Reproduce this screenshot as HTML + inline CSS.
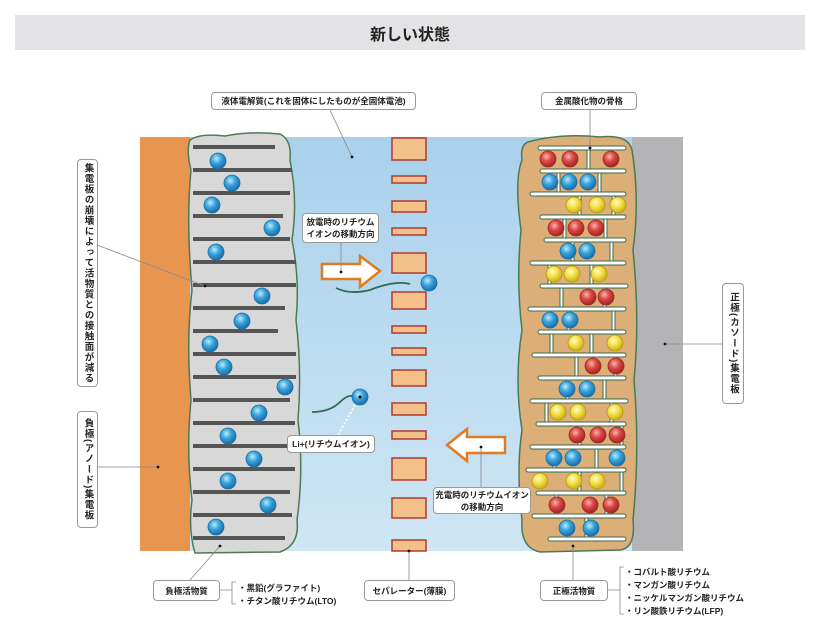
<!DOCTYPE html>
<html><head><meta charset="utf-8"><style>
body{margin:0;width:820px;height:636px;background:#fff;overflow:hidden;position:relative;font-family:"Liberation Sans","Noto Sans CJK JP",sans-serif}
.t{position:absolute;font-size:8.5px;font-weight:bold;color:#222;white-space:nowrap}
.b{position:absolute;background:#fff;border:1px solid #999;border-radius:4px;box-sizing:border-box;display:flex;align-items:center;justify-content:center;text-align:center;font-size:8.5px;font-weight:bold;color:#222;line-height:12px}
.v{writing-mode:vertical-rl;font-size:9.5px;letter-spacing:1px}
</style></head><body>
<div style="position:absolute;left:15px;top:15px;width:790px;height:35px;background:#e3e3e5;display:flex;align-items:center;justify-content:center;font-size:16px;font-weight:bold;color:#222">新しい状態</div>
<svg width="820" height="636" style="position:absolute;left:0;top:0">
<defs>
<linearGradient id="bg" x1="0" y1="0" x2="0" y2="1"><stop offset="0" stop-color="#a9d1ec"/><stop offset="1" stop-color="#cfe6f4"/></linearGradient>
<radialGradient id="bl" cx=".4" cy=".35" r=".6"><stop offset="0" stop-color="#bfeaff"/><stop offset=".5" stop-color="#3aa6dc"/><stop offset="1" stop-color="#1f74b0"/></radialGradient>
<radialGradient id="rd" cx=".4" cy=".35" r=".6"><stop offset="0" stop-color="#f9b5b0"/><stop offset=".5" stop-color="#dc4a45"/><stop offset="1" stop-color="#a82a28"/></radialGradient>
<radialGradient id="yl" cx=".4" cy=".35" r=".6"><stop offset="0" stop-color="#fffbd0"/><stop offset=".5" stop-color="#f6e24a"/><stop offset="1" stop-color="#d2b61e"/></radialGradient>
</defs>
<rect x="140" y="137" width="543" height="414" fill="url(#bg)"/>
<rect x="140" y="137" width="50" height="414" fill="#e8964f"/>
<rect x="632" y="137" width="51" height="414" fill="#b4b4b7"/>
<path d="M190 140 Q200 133 225 136 Q250 131 280 134 Q292 140 290 160 Q298 200 292 240 Q300 280 296 320 Q302 370 298 420 Q304 470 297 520 Q300 545 280 552 L195 553 Q188 530 192 500 Q186 450 191 400 Q186 340 192 290 Q186 220 191 170 Q186 150 190 140Z" fill="#d8d8d8" stroke="#4b7a57" stroke-width="1.5"/>
<g stroke="#555" stroke-width="4">
<line x1="193" y1="147" x2="275" y2="147"/><line x1="193" y1="170" x2="292" y2="170"/><line x1="193" y1="193" x2="290" y2="193"/><line x1="193" y1="216" x2="283" y2="216"/><line x1="193" y1="239" x2="290" y2="239"/><line x1="193" y1="262" x2="296" y2="262"/><line x1="193" y1="285" x2="296" y2="285"/><line x1="193" y1="308" x2="285" y2="308"/><line x1="193" y1="331" x2="278" y2="331"/><line x1="193" y1="354" x2="296" y2="354"/><line x1="193" y1="377" x2="296" y2="377"/><line x1="193" y1="400" x2="290" y2="400"/><line x1="193" y1="423" x2="295" y2="423"/><line x1="193" y1="446" x2="290" y2="446"/><line x1="193" y1="469" x2="295" y2="469"/><line x1="193" y1="492" x2="290" y2="492"/><line x1="193" y1="515" x2="292" y2="515"/><line x1="193" y1="538" x2="285" y2="538"/>
</g>
<g fill="url(#bl)" stroke="#1c6fa8" stroke-width=".8">
<circle cx="218" cy="161" r="8"/><circle cx="232" cy="183" r="8"/><circle cx="212" cy="205" r="8"/><circle cx="272" cy="228" r="8"/><circle cx="216" cy="252" r="8"/><circle cx="262" cy="296" r="8"/><circle cx="242" cy="321" r="8"/><circle cx="210" cy="344" r="8"/><circle cx="224" cy="367" r="8"/><circle cx="285" cy="387" r="8"/><circle cx="259" cy="413" r="8"/><circle cx="228" cy="436" r="8"/><circle cx="254" cy="459" r="8"/><circle cx="228" cy="481" r="8"/><circle cx="268" cy="505" r="8"/><circle cx="216" cy="527" r="8"/>
<circle cx="429" cy="283" r="8"/><circle cx="360" cy="397" r="8"/>
</g>
<circle cx="360" cy="397" r="1.5" fill="#000"/>
<path d="M336 288 Q350 295 370 290 Q395 280 410 284" fill="none" stroke="#2e6b55" stroke-width="1.8"/>
<path d="M312 412 Q330 412 340 402 Q347 395 352 396" fill="none" stroke="#2e6b55" stroke-width="1.8"/>
<line x1="355" y1="405" x2="338" y2="435" stroke="#fff" stroke-width="2" stroke-dasharray="2 2"/>
<g fill="#f3c08a" stroke="#b03a2e" stroke-width="1.5">
<rect x="392" y="138" width="34" height="22"/><rect x="392" y="176" width="34" height="7"/><rect x="392" y="201" width="34" height="11"/><rect x="392" y="228" width="34" height="7"/><rect x="392" y="253" width="34" height="20"/><rect x="392" y="292" width="34" height="17"/><rect x="392" y="326" width="34" height="7"/><rect x="392" y="348" width="34" height="7"/><rect x="392" y="370" width="34" height="16"/><rect x="392" y="403" width="34" height="12"/><rect x="392" y="431" width="34" height="8"/><rect x="392" y="458" width="34" height="22"/><rect x="392" y="498" width="34" height="20"/><rect x="392" y="540" width="34" height="11"/>
</g>
<path d="M322 264 H360 V256 L380 271 L360 287 V279 H322Z" fill="#fff" stroke="#e27a22" stroke-width="2.5"/>
<path d="M505 437 H467 V429 L447 445 L467 461 V453 H505Z" fill="#fff" stroke="#e27a22" stroke-width="2.5"/>
<path d="M528 142 Q560 133 600 137 Q628 134 632 150 Q640 200 633 250 Q640 320 634 380 Q640 450 633 520 Q636 548 620 550 L540 552 Q520 548 522 520 Q516 470 522 430 Q514 380 522 330 Q516 280 521 230 Q514 180 522 160 Q520 145 528 142Z" fill="#dcae78" stroke="#4b7a57" stroke-width="1.5"/>
<g fill="#fff" stroke="#3d6a4c" stroke-width="1">
<rect x="538" y="146" width="88" height="4" rx="2"/><rect x="540" y="169" width="86" height="4" rx="2"/><rect x="530" y="192" width="96" height="4" rx="2"/><rect x="540" y="215" width="86" height="4" rx="2"/><rect x="544" y="238" width="82" height="4" rx="2"/><rect x="530" y="261" width="96" height="4" rx="2"/><rect x="540" y="284" width="88" height="4" rx="2"/><rect x="528" y="307" width="98" height="4" rx="2"/><rect x="538" y="330" width="88" height="4" rx="2"/><rect x="532" y="353" width="94" height="4" rx="2"/><rect x="538" y="376" width="88" height="4" rx="2"/><rect x="530" y="399" width="98" height="4" rx="2"/><rect x="536" y="422" width="90" height="4" rx="2"/><rect x="530" y="445" width="96" height="4" rx="2"/><rect x="526" y="468" width="100" height="4" rx="2"/><rect x="536" y="491" width="90" height="4" rx="2"/><rect x="532" y="514" width="94" height="4" rx="2"/><rect x="548" y="537" width="78" height="4" rx="2"/>
<rect x="587" y="150" width="3" height="19"/><rect x="557" y="173" width="3" height="19"/><rect x="598" y="173" width="3" height="19"/><rect x="578" y="196" width="3" height="19"/><rect x="612" y="196" width="3" height="19"/><rect x="563" y="219" width="3" height="19"/><rect x="604" y="219" width="3" height="19"/><rect x="571" y="242" width="3" height="19"/><rect x="610" y="242" width="3" height="19"/><rect x="548" y="265" width="3" height="19"/><rect x="590" y="265" width="3" height="19"/><rect x="560" y="288" width="3" height="19"/><rect x="603" y="288" width="3" height="19"/><rect x="567" y="311" width="3" height="19"/><rect x="612" y="311" width="3" height="19"/><rect x="550" y="334" width="3" height="19"/><rect x="590" y="334" width="3" height="19"/><rect x="575" y="357" width="3" height="19"/><rect x="614" y="357" width="3" height="19"/><rect x="566" y="380" width="3" height="19"/><rect x="603" y="380" width="3" height="19"/><rect x="545" y="403" width="3" height="19"/><rect x="610" y="403" width="3" height="19"/><rect x="578" y="426" width="3" height="19"/><rect x="620" y="426" width="3" height="19"/><rect x="553" y="449" width="3" height="19"/><rect x="595" y="449" width="3" height="19"/><rect x="578" y="472" width="3" height="19"/><rect x="620" y="472" width="3" height="19"/><rect x="555" y="495" width="3" height="19"/><rect x="605" y="495" width="3" height="19"/><rect x="585" y="518" width="3" height="19"/>
</g>
<g stroke-width=".8">
<g fill="url(#rd)" stroke="#a02a28"><circle cx="548" cy="159" r="8"/><circle cx="570" cy="159" r="8"/><circle cx="611" cy="159" r="8"/><circle cx="556" cy="228" r="8"/><circle cx="576" cy="228" r="8"/><circle cx="596" cy="228" r="8"/><circle cx="588" cy="297" r="8"/><circle cx="606" cy="297" r="8"/><circle cx="593" cy="366" r="8"/><circle cx="616" cy="366" r="8"/><circle cx="577" cy="435" r="8"/><circle cx="598" cy="435" r="8"/><circle cx="617" cy="435" r="8"/><circle cx="557" cy="505" r="8"/><circle cx="590" cy="505" r="8"/><circle cx="611" cy="505" r="8"/></g>
<g fill="url(#bl)" stroke="#1c6fa8"><circle cx="550" cy="182" r="8"/><circle cx="569" cy="182" r="8"/><circle cx="588" cy="182" r="8"/><circle cx="568" cy="251" r="8"/><circle cx="587" cy="251" r="8"/><circle cx="550" cy="320" r="8"/><circle cx="570" cy="320" r="8"/><circle cx="567" cy="389" r="8"/><circle cx="587" cy="389" r="8"/><circle cx="554" cy="458" r="8"/><circle cx="573" cy="458" r="8"/><circle cx="617" cy="458" r="8"/><circle cx="567" cy="528" r="8"/><circle cx="591" cy="528" r="8"/></g>
<g fill="url(#yl)" stroke="#b89a12"><circle cx="574" cy="205" r="8"/><circle cx="597" cy="205" r="8"/><circle cx="618" cy="205" r="8"/><circle cx="554" cy="274" r="8"/><circle cx="572" cy="274" r="8"/><circle cx="599" cy="274" r="8"/><circle cx="576" cy="343" r="8"/><circle cx="615" cy="343" r="8"/><circle cx="558" cy="412" r="8"/><circle cx="578" cy="412" r="8"/><circle cx="615" cy="412" r="8"/><circle cx="540" cy="481" r="8"/><circle cx="574" cy="481" r="8"/><circle cx="597" cy="481" r="8"/></g>
</g>
<g stroke="#888" stroke-width=".8" fill="none">
<line x1="330" y1="110" x2="352" y2="157"/><line x1="590" y1="110" x2="590" y2="148"/>
<line x1="97" y1="245" x2="205" y2="286"/><line x1="97" y1="467" x2="158" y2="467"/>
<line x1="665" y1="344" x2="722" y2="344"/><line x1="341" y1="243" x2="341" y2="272"/>
<line x1="481" y1="447" x2="481" y2="487"/><line x1="220" y1="546" x2="190" y2="580"/>
<line x1="409" y1="551" x2="409" y2="580"/><line x1="573" y1="546" x2="573" y2="580"/>
<path d="M220 590 H232 M236 582 H232 V604 H236"/><path d="M608 590 H620 M624 567 H620 V614 H624"/>
</g>
<g fill="#111"><circle cx="352" cy="157" r="1.4"/><circle cx="590" cy="148" r="1.4"/><circle cx="205" cy="286" r="1.4"/><circle cx="158" cy="467" r="1.4"/><circle cx="665" cy="344" r="1.4"/><circle cx="341" cy="272" r="1.4"/><circle cx="481" cy="447" r="1.4"/><circle cx="220" cy="546" r="1.4"/><circle cx="409" cy="551" r="1.4"/><circle cx="573" cy="546" r="1.4"/></g>
</svg>
<div class="b" style="left:211px;top:92px;width:205px;height:18px">液体電解質(これを固体にしたものが全固体電池)</div>
<div class="b" style="left:541px;top:92px;width:96px;height:18px">金属酸化物の骨格</div>
<div class="b v" style="left:77px;top:159px;width:21px;height:228px">集電板の崩壊によって活物質との接触面が減る</div>
<div class="b v" style="left:77px;top:411px;width:21px;height:117px">負極(アノード)集電板</div>
<div class="b v" style="left:722px;top:283px;width:22px;height:121px">正極(カソード)集電板</div>
<div class="b" style="left:302px;top:213px;width:77px;height:30px">放電時のリチウム<br>イオンの移動方向</div>
<div class="b" style="left:287px;top:435px;width:88px;height:18px">Li+(リチウムイオン)</div>
<div class="b" style="left:433px;top:487px;width:98px;height:27px">充電時のリチウムイオン<br>の移動方向</div>
<div class="b" style="left:153px;top:580px;width:67px;height:21px">負極活物質</div>
<div class="b" style="left:364px;top:580px;width:91px;height:21px">セパレーター(薄膜)</div>
<div class="b" style="left:540px;top:580px;width:68px;height:21px">正極活物質</div>
<div class="t" style="left:238px;top:582px">・黒鉛(グラファイト)</div>
<div class="t" style="left:238px;top:595px">・チタン酸リチウム(LTO)</div>
<div class="t" style="left:625px;top:566px">・コバルト酸リチウム</div>
<div class="t" style="left:625px;top:579px">・マンガン酸リチウム</div>
<div class="t" style="left:625px;top:592px">・ニッケルマンガン酸リチウム</div>
<div class="t" style="left:625px;top:605px">・リン酸鉄リチウム(LFP)</div>
</body></html>
